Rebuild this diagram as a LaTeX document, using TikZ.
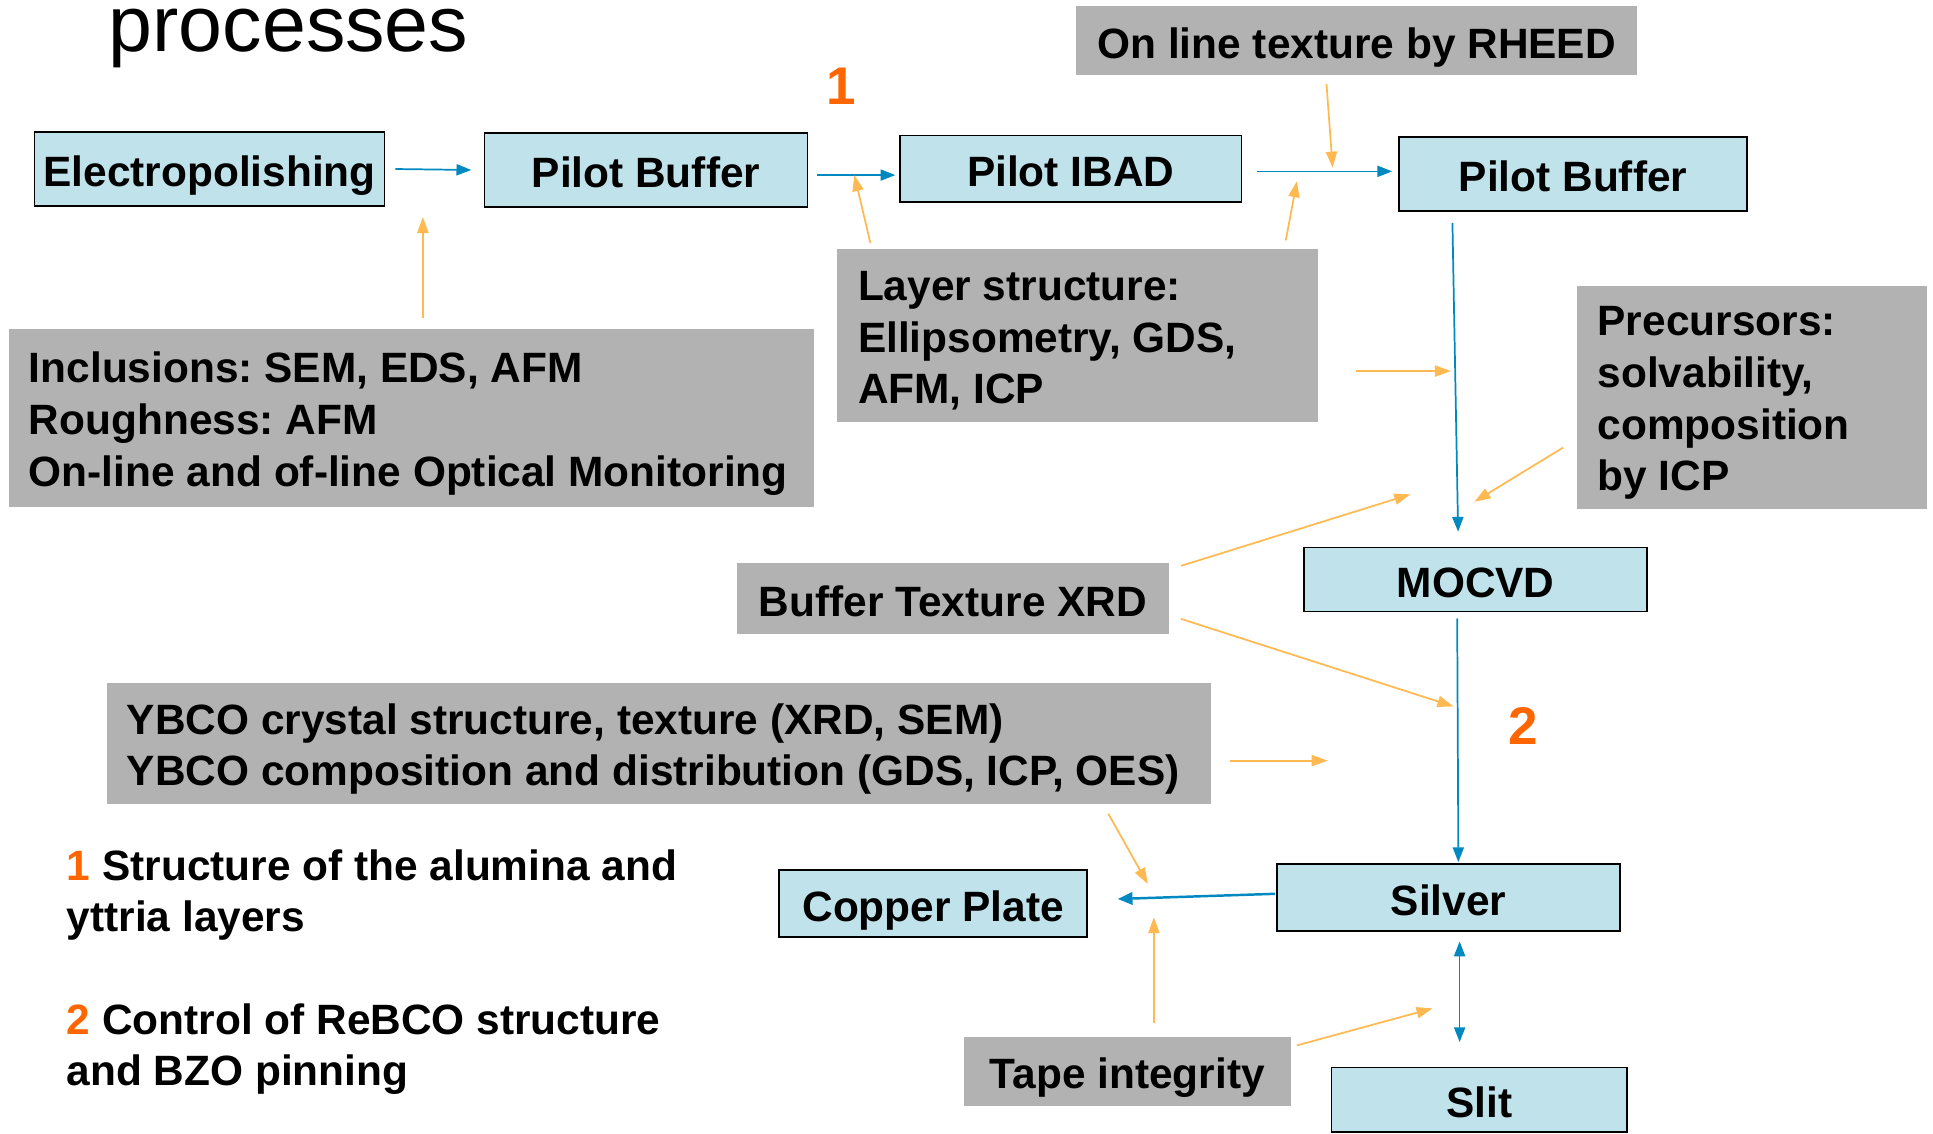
\documentclass[tikz,border=0pt]{standalone}
\usepackage{fontspec}
\setmainfont{Liberation Sans}
\usetikzlibrary{arrows.meta}
\definecolor{boxblue}{RGB}{192,227,235}
\definecolor{boxgray}{RGB}{178,178,178}
\definecolor{arrblue}{RGB}{0,136,192}
\definecolor{arrorange}{RGB}{255,185,80}
\definecolor{numorange}{RGB}{255,102,0}
\frenchspacing
\begin{document}
\begin{tikzpicture}[x=1pt,y=-1pt,
  txt/.style={font=\bfseries\fontsize{34.4}{42}\selectfont\frenchspacing},
  bbox/.style={txt, draw=black, line width=1.4pt, fill=boxblue, inner sep=0pt, text height=28.6pt, text depth=0pt},
  gbox/.style={txt, fill=boxgray, inner sep=0pt, text height=28.6pt, text depth=0pt},
  gtxt/.style={txt, align=left, inner sep=0pt, anchor=west, yshift=-4.5pt},
  barrow/.style={draw=arrblue, line width=1.4pt, -{Triangle[length=12pt,width=9pt]}},
  oarrow/.style={draw=arrorange, line width=1.4pt, -{Triangle[length=13pt,width=9pt]}},
  num/.style={text=numorange, font=\bfseries\fontsize{43}{43}\selectfont, inner sep=0pt}
]
\useasboundingbox[fill=white] (0,0) rectangle (1568,919.27);

% title fragment
\node[anchor=base west, inner sep=0pt, font=\fontsize{64}{64}\selectfont] (title) at (88,42) {processes};

% numbers
\node[num] (n1) at (682,70) {1};
\node[num] (n2) at (1236,589) {2};

% process boxes
\node[bbox, minimum width=284, minimum height=60] (e) at (170,137) {Electropolishing};
\node[bbox, minimum width=262, minimum height=60] (pb1) at (524,138) {Pilot Buffer};
\node[bbox, minimum width=277, minimum height=54] (ibad) at (868.5,137) {Pilot IBAD};
\node[bbox, minimum width=282, minimum height=60] (pb2) at (1276,141) {Pilot Buffer};
\node[bbox, minimum width=278, minimum height=52] (moc) at (1197,470) {MOCVD};
\node[bbox, minimum width=250, minimum height=54] (cu) at (757,733) {Copper Plate};
\node[bbox, minimum width=278, minimum height=54] (ag) at (1175,728) {Silver};
\node[bbox, minimum width=240, minimum height=52] (slit) at (1200,892) {Slit};

% gray method boxes
\node[gbox, minimum width=455, minimum height=56] (rheed) at (1100.5,33) {On line texture by RHEED};
\node[gbox, minimum width=390, minimum height=140] (layer) at (874,272) {};
\node[gtxt] (layert) at ([xshift=17pt]layer.west) {Layer structure:\\Ellipsometry, GDS,\\AFM, ICP};
\node[gbox, minimum width=653, minimum height=144] (inc) at (333.5,339) {};
\node[gtxt] (inct) at ([xshift=16.5pt]inc.west) {Inclusions: SEM, EDS, AFM\\Roughness: AFM\\On-line and of-line Optical Monitoring};
\node[gbox, minimum width=284, minimum height=181] (prec) at (1421,322.5) {};
\node[gtxt] (prect) at ([xshift=17pt]prec.west) {Precursors:\\solvability,\\composition\\by ICP};
\node[gbox, minimum width=350, minimum height=57] (bt) at (773,485.5) {Buffer Texture XRD};
\node[gbox, minimum width=895, minimum height=98] (ybco) at (534.5,603) {};
\node[gtxt] (ybcot) at ([xshift=16pt]ybco.west) {YBCO crystal structure, texture (XRD, SEM)\\YBCO composition and distribution (GDS, ICP, OES)};
\node[gbox, minimum width=265, minimum height=56] (tape) at (914.5,869) {Tape integrity};

% legend
\node[gtxt] (leg1) at (54,721.5) {\textcolor{numorange}{1} Structure of the alumina and\\yttria layers};
\node[gtxt] (leg2) at (54,846.5) {\textcolor{numorange}{2} Control of ReBCO structure\\and BZO pinning};

% blue process flow
\draw[barrow, shorten <=8pt, shorten >=10pt] (e.east) -- (pb1.west);
\draw[barrow, shorten <=7pt, shorten >=3pt] ([yshift=-4pt]pb1.east) -- ([yshift=-5pt]ibad.west);
\draw[barrow, shorten <=12pt, shorten >=5pt] ([yshift=-2pt]ibad.east) -- ([yshift=2pt]pb2.west);
\draw[barrow, shorten <=9pt, shorten >=12pt] ([xshift=-98pt]pb2.south) -- ([xshift=-14pt]moc.north);
\draw[barrow, shorten <=5pt, shorten >=1pt] ([xshift=-15pt]moc.south) -- ([xshift=8pt]ag.north);
\draw[draw=arrblue, line width=2pt, -{Triangle[length=12pt,width=10pt]}, shorten <=1pt, shorten >=24pt] ([yshift=3pt]ag.west) -- ([yshift=3pt]cu.east);
\draw[barrow, {Triangle[length=12pt,width=9pt]}-{Triangle[length=12pt,width=9pt]}, shorten <=8pt, shorten >=20pt] ([xshift=9pt]ag.south) -- ([xshift=-16pt]slit.north);

% orange measurement arrows
\coordinate (incout) at (343,258);   \coordinate (incin) at (343,176);
\coordinate (layout1) at (706,197);  \coordinate (layin1) at (693,142);
\coordinate (layout2) at (1043,195); \coordinate (layin2) at (1052,147);
\coordinate (rhout) at (1076,68);    \coordinate (rhin) at (1081,136);
\coordinate (layout3) at (1100,301); \coordinate (layin3) at (1177,301);
\coordinate (precout) at (1268,363); \coordinate (precin) at (1196,407);
\coordinate (btout1) at (958,459);   \coordinate (btin1) at (1144,401);
\coordinate (btout2) at (958,502);   \coordinate (btin2) at (1179,573);
\coordinate (ybout1) at (998,617);   \coordinate (ybin1) at (1077,617);
\coordinate (ybout2) at (899,660);   \coordinate (ybin2) at (931,717);
\coordinate (tpout1) at (936,830);   \coordinate (tpin1) at (936,744);
\coordinate (tpout2) at (1052,848);  \coordinate (tpin2) at (1162,818);
\draw[oarrow] (incout) -- (incin);
\draw[oarrow] (layout1) -- (layin1);
\draw[oarrow] (layout2) -- (layin2);
\draw[oarrow] (rhout) -- (rhin);
\draw[oarrow] (layout3) -- (layin3);
\draw[oarrow] (precout) -- (precin);
\draw[oarrow] (btout1) -- (btin1);
\draw[oarrow] (btout2) -- (btin2);
\draw[oarrow] (ybout1) -- (ybin1);
\draw[oarrow] (ybout2) -- (ybin2);
\draw[oarrow] (tpout1) -- (tpin1);
\draw[oarrow] (tpout2) -- (tpin2);
\end{tikzpicture}
\end{document}
